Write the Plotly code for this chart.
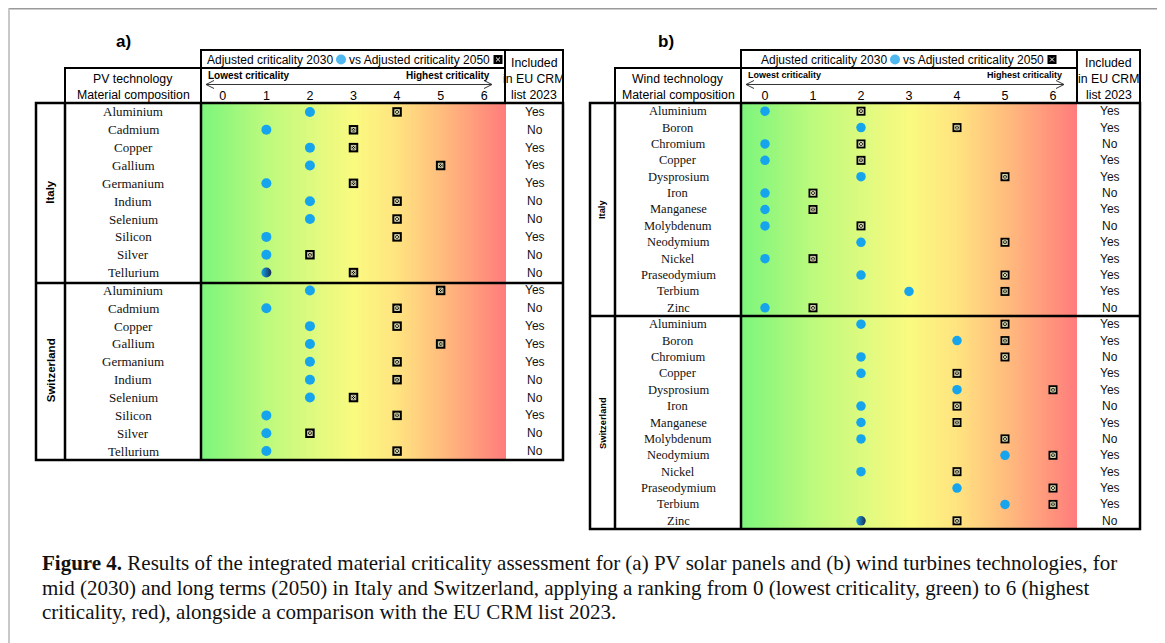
import numpy as np
import plotly.graph_objects as go

W, H = 1165, 643
OFF = 8  # browser body margin: the figure is drawn starting at (8, 8)
FW, FH = W - OFF, H - OFF

# ---------------- data ----------------
scale_ticks = [0, 1, 2, 3, 4, 5, 6]

pv_materials = ["Aluminium", "Cadmium", "Copper", "Gallium", "Germanium",
                "Indium", "Selenium", "Silicon", "Silver", "Tellurium"]
pv_italy_2030 = [2, 1, 2, 2, 1, 2, 2, 1, 1, 1]
pv_italy_2050 = [4, 3, 3, 5, 3, 4, 4, 4, 2, 3]
pv_italy_eu = ["Yes", "No", "Yes", "Yes", "Yes", "No", "No", "Yes", "No", "No"]
pv_swiss_2030 = [2, 1, 2, 2, 2, 2, 2, 1, 1, 1]
pv_swiss_2050 = [5, 4, 4, 5, 4, 4, 3, 4, 2, 4]
pv_swiss_eu = ["Yes", "No", "Yes", "Yes", "Yes", "No", "No", "Yes", "No", "No"]
pv_italy_overlap = ["Tellurium"]
pv_swiss_overlap = []

wind_materials = ["Aluminium", "Boron", "Chromium", "Copper", "Dysprosium", "Iron",
                  "Manganese", "Molybdenum", "Neodymium", "Nickel", "Praseodymium",
                  "Terbium", "Zinc"]
wind_italy_2030 = [0, 2, 0, 0, 2, 0, 0, 0, 2, 0, 2, 3, 0]
wind_italy_2050 = [2, 4, 2, 2, 5, 1, 1, 2, 5, 1, 5, 5, 1]
wind_italy_eu = ["Yes", "Yes", "No", "Yes", "Yes", "No", "Yes", "No", "Yes", "Yes", "Yes", "Yes", "No"]
wind_swiss_2030 = [2, 4, 2, 2, 4, 2, 2, 2, 5, 2, 4, 5, 2]
wind_swiss_2050 = [5, 5, 5, 4, 6, 4, 4, 5, 6, 4, 6, 6, 4]
wind_swiss_eu = ["Yes", "Yes", "No", "Yes", "Yes", "No", "Yes", "No", "Yes", "Yes", "Yes", "Yes", "No"]
wind_italy_overlap = []
wind_swiss_overlap = ["Zinc"]

countries = ["Italy", "Switzerland"]

caption_lines = [
    "<b>Figure 4.</b> Results of the integrated material criticality assessment for (a) PV solar panels and (b) wind turbines technologies, for",
    "mid (2030) and long terms (2050) in Italy and Switzerland, applying a ranking from 0 (lowest criticality, green) to 6 (highest",
    "criticality, red), alongside a comparison with the EU CRM list 2023.",
]

# ---------------- helpers ----------------
def X(p):
    return (p - OFF) / FW

def Y(p):
    return 1 - (p - OFF) / FH

BLUE = "#16A4EC"
DARK = "#1b2b4f"
SANS = "Liberation Sans"
SERIF = "Liberation Serif"

grad_scale = [
    [0.0, "rgb(124,245,124)"],
    [0.22, "rgb(190,250,125)"],
    [0.5, "rgb(250,250,128)"],
    [0.64, "rgb(255,228,128)"],
    [0.8, "rgb(255,185,125)"],
    [1.0, "rgb(255,124,124)"],
]

panels = [
    dict(label="a)", label_x=123, tech=["PV technology", "Material composition"],
         materials=pv_materials,
         blocks=[(pv_italy_2030, pv_italy_2050, pv_italy_eu, pv_italy_overlap),
                 (pv_swiss_2030, pv_swiss_2050, pv_swiss_eu, pv_swiss_overlap)],
         xc=36, xm=65, xg=201, xg1=506, xi=505, xr=563,
         top=50, mid=68, dtop=103, sep=283, bot=460,
         leg_dot=341, leg_sq=498, mat_size=13, country_size=11.5, lc_size=10,
         hdr_size=12, marker=10),
    dict(label="b)", label_x=666, tech=["Wind technology", "Material composition"],
         materials=wind_materials,
         blocks=[(wind_italy_2030, wind_italy_2050, wind_italy_eu, wind_italy_overlap),
                 (wind_swiss_2030, wind_swiss_2050, wind_swiss_eu, wind_swiss_overlap)],
         xc=590, xm=615, xg=741, xg1=1077, xi=1077, xr=1140,
         top=50, mid=68, dtop=103, sep=316, bot=529,
         leg_dot=895, leg_sq=1052, mat_size=12.5, country_size=9.3, lc_size=9,
         hdr_size=12, marker=9.5),
]

fig = go.Figure()
shapes = []
annotations = []

def box(x0, y0, x1, y1, w=2):
    shapes.append(dict(type="rect", xref="paper", yref="paper",
                       x0=X(x0), x1=X(x1), y0=Y(y1), y1=Y(y0),
                       line=dict(color="black", width=w), fillcolor="rgba(0,0,0,0)"))

def hline(x0, x1, y, w=2, color="black"):
    shapes.append(dict(type="line", xref="paper", yref="paper",
                       x0=X(x0), x1=X(x1), y0=Y(y), y1=Y(y),
                       line=dict(color=color, width=w)))

def vline(x, y0, y1, w=2, color="black"):
    shapes.append(dict(type="line", xref="paper", yref="paper",
                       x0=X(x), x1=X(x), y0=Y(y0), y1=Y(y1),
                       line=dict(color=color, width=w)))

def text(x, y, s, size=12, family=SANS, color="black", xanchor="center", angle=0):
    annotations.append(dict(x=X(x), y=Y(y), xref="paper", yref="paper",
                            text=s, showarrow=False, xanchor=xanchor, yanchor="middle",
                            textangle=angle, font=dict(family=family, size=size, color=color)))

for i, p in enumerate(panels):
    xa = "x" if i == 0 else "x2"
    ya = "y" if i == 0 else "y2"
    n = len(p["materials"])
    nrows = 2 * n

    # gradient background (criticality colour scale from 0 = green to 6 = red)
    xs = np.linspace(-0.5, 6.5, 176)
    fig.add_trace(go.Heatmap(x=xs, y=[-0.5, nrows - 0.5], z=[xs, xs], zmin=-0.5, zmax=6.5,
                             colorscale=grad_scale, showscale=False, hoverinfo="skip",
                             xaxis=xa, yaxis=ya))

    for b, (v30, v50, eu, overlap) in enumerate(p["blocks"]):
        rows = [b * n + k for k in range(n)]
        gtype = ["horizontal" if m in overlap else "none" for m in p["materials"]]
        fig.add_trace(go.Scatter(x=v30, y=rows, mode="markers", xaxis=xa, yaxis=ya,
                                 marker=dict(symbol="circle", size=p["marker"], color=BLUE,
                                             line=dict(width=0),
                                             gradient=dict(type=gtype, color=DARK)),
                                 hoverinfo="skip"))
        fig.add_trace(go.Scatter(x=v50, y=rows, mode="markers", xaxis=xa, yaxis=ya,
                                 marker=dict(symbol="square", size=p["marker"] - 0.5, color="black",
                                             line=dict(width=0)),
                                 hoverinfo="skip"))
        fig.add_trace(go.Scatter(x=v50, y=rows, mode="markers", xaxis=xa, yaxis=ya,
                                 marker=dict(symbol="square-x-open", size=4.5, color="#d8d8b0",
                                             line=dict(width=1, color="#d8d8b0")),
                                 hoverinfo="skip"))
        for k, m in enumerate(p["materials"]):
            annotations.append(dict(x=X((p["xm"] + p["xg"]) / 2), y=rows[k], xref="paper", yref=ya,
                                    text=m, showarrow=False, xanchor="center", yanchor="middle",
                                    font=dict(family=SERIF, size=p["mat_size"], color="#111")))
            annotations.append(dict(x=X((p["xi"] + p["xr"]) / 2 + 1), y=rows[k], xref="paper", yref=ya,
                                    text=eu[k], showarrow=False, xanchor="center", yanchor="middle",
                                    font=dict(family=SANS, size=12, color="#111")))
        annotations.append(dict(x=X((p["xc"] + p["xm"]) / 2), y=b * n + (n - 1) / 2, xref="paper", yref=ya,
                                text="<b>%s</b>" % countries[b], showarrow=False, textangle=-90,
                                xanchor="center", yanchor="middle",
                                font=dict(family=SANS, size=p["country_size"], color="black")))

    dom_x = [X(p["xg"]), X(p["xg1"])]
    dom_y = [Y(p["bot"]), Y(p["dtop"])]
    axx = dict(domain=dom_x, range=[-0.5, 6.5], side="top", tickvals=scale_ticks,
               ticktext=[str(t) for t in scale_ticks], ticks="", showgrid=False, zeroline=False,
               showline=False, tickfont=dict(family=SANS, size=12.5, color="black"),
               anchor=ya, fixedrange=True)
    axy = dict(domain=dom_y, range=[nrows - 0.5, -0.5], visible=False, anchor=xa, fixedrange=True)
    if i == 0:
        fig.update_layout(xaxis=axx, yaxis=axy)
    else:
        fig.update_layout(xaxis2=axx, yaxis2=axy)

    # table boxes
    box(p["xg"], p["top"], p["xi"], p["mid"])
    box(p["xi"], p["top"], p["xr"], p["dtop"])
    box(p["xm"], p["mid"], p["xg"], p["dtop"])
    box(p["xg"], p["mid"], p["xi"], p["dtop"])
    box(p["xc"], p["dtop"], p["xr"], p["bot"], w=2.5)
    hline(p["xc"], p["xr"], p["sep"], w=2.5)
    vline(p["xm"], p["dtop"], p["bot"], w=2.5)
    vline(p["xg"], p["dtop"], p["bot"], w=2.5)

    # panel label
    text(p["label_x"], 42, "<b>%s</b>" % p["label"], size=17)

    # header texts with legend symbols
    text(p["leg_dot"] - 6, 59.5, "Adjusted criticality 2030", size=p["hdr_size"], xanchor="right")
    text(p["leg_dot"] + 6, 59.5, "vs Adjusted criticality 2050", size=p["hdr_size"], xanchor="left")
    shapes.append(dict(type="circle", xref="paper", yref="paper",
                       x0=X(p["leg_dot"] - 5), x1=X(p["leg_dot"] + 5), y0=Y(64.5), y1=Y(54.5),
                       fillcolor="#4fb8ee", line=dict(width=0)))
    shapes.append(dict(type="rect", xref="paper", yref="paper",
                       x0=X(p["leg_sq"] - 4.5), x1=X(p["leg_sq"] + 4.5), y0=Y(64), y1=Y(55),
                       fillcolor="black", line=dict(width=0)))
    shapes.append(dict(type="path", xref="paper", yref="paper",
                       path="M %f,%f L %f,%f M %f,%f L %f,%f" % (
                           X(p["leg_sq"] - 2), Y(57.5), X(p["leg_sq"] + 2), Y(61.5),
                           X(p["leg_sq"] - 2), Y(61.5), X(p["leg_sq"] + 2), Y(57.5)),
                       line=dict(color="white", width=1)))

    xm_c = (p["xm"] + p["xg"]) / 2
    text(xm_c, 79, p["tech"][0], size=12.3)
    text(xm_c, 95, p["tech"][1], size=12.3)
    xi_c = (p["xi"] + p["xr"]) / 2
    text(xi_c, 63, "Included", size=12.3)
    text(xi_c, 79, "in EU CRM", size=12.3)
    text(xi_c, 95, "list 2023", size=12.3)

    # criticality direction
    g0 = p["xg"] + 5
    g1 = p["xi"] - 15
    text(g0, 75, "<b>Lowest criticality</b>", size=p["lc_size"], xanchor="left")
    text(g1 + 2, 75, "<b>Highest criticality</b>", size=p["lc_size"], xanchor="right")
    ya0 = 84.5
    shapes.append(dict(type="path", xref="paper", yref="paper",
                       path="M %f,%f L %f,%f M %f,%f L %f,%f L %f,%f M %f,%f L %f,%f L %f,%f" % (
                           X(g0), Y(ya0), X(g1 + 2), Y(ya0),
                           X(g0 + 8), Y(ya0 - 4), X(g0), Y(ya0), X(g0 + 8), Y(ya0 + 4),
                           X(g1 - 6), Y(ya0 - 4), X(g1 + 2), Y(ya0), X(g1 - 6), Y(ya0 + 4)),
                       line=dict(color="#333", width=1)))

# figure frame
hline(8.5, 1163, 8.8, w=1.5, color="#9a9a9a")
vline(9, 8.8, 643, w=2, color="#c8c8c8")
vline(1163, 8.8, 643, w=2, color="#c8c8c8")

# caption
for j, line in enumerate(caption_lines):
    text(40, 563 + 24.5 * j, line, size=21, family=SERIF, color="#111", xanchor="left")

fig.update_layout(width=FW, height=FH, margin=dict(l=0, r=0, t=0, b=0),
                  paper_bgcolor="white", plot_bgcolor="white", showlegend=False,
                  shapes=shapes, annotations=annotations)

fig.write_html("out.html")
